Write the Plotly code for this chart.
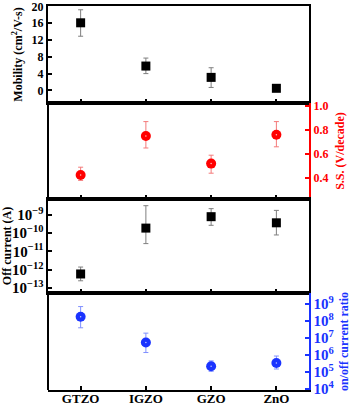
import plotly.graph_objects as go

# data
materials = ["GTZO", "IGZO", "GZO", "ZnO"]

mobility = [16.1, 5.8, 3.1, 0.5]
mobility_hi = [3.1, 1.9, 2.3, 0.5]
mobility_lo = [3.2, 1.8, 2.4, 0.5]

ss = [0.425, 0.75, 0.52, 0.76]
ss_hi = [0.065, 0.12, 0.07, 0.11]
ss_lo = [0.045, 0.10, 0.08, 0.10]

off_current = [5.9e-13, 1.9e-10, 8.0e-10, 3.7e-10]
off_hi = [8.2e-13, 3.0e-9, 1.4e-9, 1.4e-9]
off_lo = [3.4e-13, 1.63e-10, 5.3e-10, 2.9e-10]

on_off = [1.8e8, 5.4e6, 2.2e5, 3.4e5]
on_off_hi = [5.3e8, 1.4e7, 2.3e5, 5.3e5]
on_off_lo = [1.4e8, 4.0e6, 1.1e5, 1.9e5]

serif = "Liberation Serif"
RED = "#ff0000"
BLUE = "#1a33ff"

fig = go.Figure()

fig.add_trace(go.Scatter(
    x=materials, y=mobility, mode="markers", xaxis="x", yaxis="y",
    marker=dict(symbol="square", size=9, color="black"),
    error_y=dict(type="data", array=mobility_hi, arrayminus=mobility_lo,
                 color="#7f7f7f", thickness=1, width=2.5)))

fig.add_trace(go.Scatter(
    x=materials, y=ss, mode="markers", xaxis="x2", yaxis="y2",
    marker=dict(symbol="circle", size=10, color=RED),
    error_y=dict(type="data", array=ss_hi, arrayminus=ss_lo,
                 color="#f47a7a", thickness=1, width=2.5)))
fig.add_trace(go.Scatter(
    x=materials, y=ss, mode="markers", xaxis="x2", yaxis="y2", hoverinfo="skip",
    marker=dict(symbol="circle", size=1.5, color="#ffc0c0")))

fig.add_trace(go.Scatter(
    x=materials, y=off_current, mode="markers", xaxis="x3", yaxis="y3",
    marker=dict(symbol="square", size=9, color="black"),
    error_y=dict(type="data", array=off_hi, arrayminus=off_lo,
                 color="#7f7f7f", thickness=1, width=2.5)))

fig.add_trace(go.Scatter(
    x=materials, y=on_off, mode="markers", xaxis="x4", yaxis="y4",
    marker=dict(symbol="circle", size=10, color=BLUE),
    error_y=dict(type="data", array=on_off_hi, arrayminus=on_off_lo,
                 color="#8090ff", thickness=1, width=2.5)))
fig.add_trace(go.Scatter(
    x=materials, y=on_off, mode="markers", xaxis="x4", yaxis="y4", hoverinfo="skip",
    marker=dict(symbol="circle", size=1.5, color="#c0c8ff")))

domains = [[0.7474, 1.0], [0.4974, 0.7474], [0.2526, 0.4974], [0.0, 0.2526]]

xbase = dict(range=[-0.5, 3.5], showline=True, linecolor="black", linewidth=2,
             mirror=True, ticks="inside", ticklen=4, tickwidth=2, tickcolor="black",
             showgrid=False, zeroline=False, automargin=False,
             tickfont=dict(family=serif, size=13, color="black", weight="bold"))
ybase = dict(showline=True, linewidth=2, ticks="inside", ticklen=4, tickwidth=2,
             showgrid=False, zeroline=False, automargin=False, ticklabeloverflow="allow")

layout = dict(
    width=359, height=406,
    margin=dict(l=48, r=50, t=6, b=16),
    plot_bgcolor="white", paper_bgcolor="white",
    showlegend=False,
    font=dict(family=serif, size=12, color="black"),
)
for i in range(4):
    k = "" if i == 0 else str(i + 1)
    xa = dict(xbase, anchor="y" + k, showticklabels=(i == 3))
    if i > 0:
        xa["matches"] = "x"
    layout["xaxis" + k] = xa
layout["xaxis4"]["ticklabelstandoff"] = -5

layout["yaxis"] = dict(ybase, domain=domains[0], anchor="x", side="left",
                       range=[-3, 20.1], tickvals=[0, 4, 8, 12, 16, 20],
                       linecolor="black", mirror=True, tickcolor="black",
                       tickfont=dict(family=serif, size=12, color="black", weight="bold"),
                       title=dict(text="Mobility (cm<sup>2</sup>/V-s)", standoff=6,
                                  font=dict(family=serif, size=12, color="black", weight="bold")))
layout["yaxis2"] = dict(ybase, domain=domains[1], anchor="x2", side="right",
                        range=[0.225, 1.025], tickvals=[0.4, 0.6, 0.8, 1.0],
                        tickformat=".1f",
                        linecolor=RED, tickcolor=RED,
                        tickfont=dict(family=serif, size=12, color=RED, weight="bold"),
                        title=dict(text="S.S. (V/decade)", standoff=8,
                                   font=dict(family=serif, size=12, color=RED, weight="bold")))
layout["yaxis3"] = dict(ybase, domain=domains[2], anchor="x3", side="left",
                        type="log", range=[-13.27, -8.13], dtick=1, exponentformat="power",
                        linecolor="black", mirror=True, tickcolor="black",
                        tickfont=dict(family=serif, size=12, color="black", weight="bold"),
                        title=dict(text="Off current (A)", standoff=6,
                                   font=dict(family=serif, size=12, color="black", weight="bold")))
layout["yaxis4"] = dict(ybase, domain=domains[3], anchor="x4", side="right",
                        type="log", range=[3.94, 9.65], dtick=1, exponentformat="power",
                        linecolor=BLUE, tickcolor=BLUE,
                        tickfont=dict(family=serif, size=12, color=BLUE, weight="bold"),
                        title=dict(text="on/off current ratio", standoff=6,
                                   font=dict(family=serif, size=12, color=BLUE, weight="bold")))

fig.update_layout(**layout)

# black left edge for the panels whose y axis sits on the right
for ref in ["y2", "y4"]:
    fig.add_shape(type="line", xref="paper", yref=ref + " domain",
                  x0=0, x1=0, y0=0, y1=1, line=dict(color="black", width=2))

# drop the default page margin so the 359x406 figure fits the window
fig.write_html("out.html", config={"displayModeBar": False},
               post_script="document.body.style.margin='0';")
